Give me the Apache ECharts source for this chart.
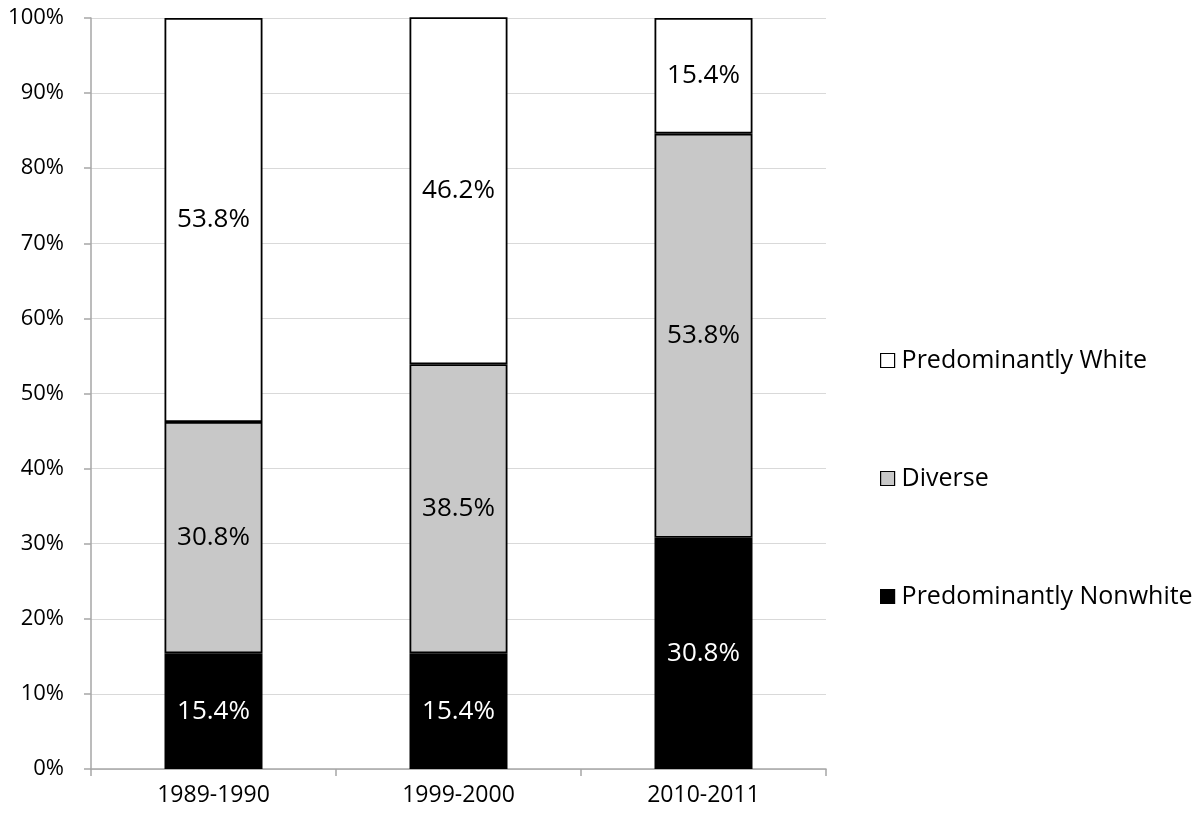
<!DOCTYPE html>
<html>
<head>
<meta charset="utf-8">
<title>Chart</title>
<script src="https://cdn.jsdelivr.net/npm/echarts@6/dist/echarts.min.js"></script>
<style>
  html, body { margin: 0; padding: 0; background: #fff; }
  #chart { width: 1204px; height: 814px; }
</style>
</head>
<body>
<div id="chart"></div>
<script>
// data
var categories = ["1989-1990", "1999-2000", "2010-2011"];
var nonwhite = [15.4, 15.4, 30.8];
var diverse = [30.8, 38.5, 53.8];
var white = [53.8, 46.2, 15.4];
var yTicks = [0, 10, 20, 30, 40, 50, 60, 70, 80, 90, 100];

var font = "'Open Sans', 'Liberation Sans', sans-serif";

function barSeries(name, data, fill, labelColor) {
  return {
    name: name,
    type: "bar",
    stack: "total",
    barWidth: "40%",
    data: data,
    itemStyle: { color: fill, borderColor: "#000", borderWidth: 1.8 },
    label: {
      show: true,
      position: "inside",
      color: labelColor,
      fontFamily: font,
      fontSize: 26,
      formatter: function (p) { return p.value.toFixed(1) + "%"; }
    }
  };
}

var myChart = echarts.init(document.getElementById("chart"));
myChart.setOption({
  animation: false,
  grid: { left: 91, right: 378, top: 18, bottom: 45 },
  legend: {
    orient: "vertical",
    left: 875,
    top: 343,
    itemGap: 93,
    itemWidth: 14,
    itemHeight: 14,
    icon: "rect",
    data: ["Predominantly White", "Diverse", "Predominantly Nonwhite"],
    textStyle: { fontFamily: font, fontSize: 25, color: "#000", padding: [0, 0, 0, 2] },
    itemStyle: { borderColor: "#000", borderWidth: 1.2 }
  },
  xAxis: {
    type: "category",
    data: categories,
    axisLine: { lineStyle: { color: "#a6a6a6", width: 1.5 } },
    axisTick: { show: true, length: 7, lineStyle: { color: "#a6a6a6", width: 1.5 } },
    axisLabel: { color: "#000", fontFamily: font, fontSize: 23, margin: 15 }
  },
  yAxis: {
    type: "value",
    min: yTicks[0],
    max: yTicks[yTicks.length - 1],
    interval: 10,
    axisLine: { show: true, lineStyle: { color: "#a6a6a6", width: 1.5 } },
    axisTick: { show: true, length: 7, lineStyle: { color: "#a6a6a6", width: 1.5 } },
    axisLabel: { color: "#000", fontFamily: font, fontSize: 22, margin: 27, formatter: "{value}%" },
    splitLine: { lineStyle: { color: "#d9d9d9", width: 1 } }
  },
  series: [
    barSeries("Predominantly Nonwhite", nonwhite, "#000000", "#ffffff"),
    barSeries("Diverse", diverse, "#c8c8c8", "#000000"),
    barSeries("Predominantly White", white, "#ffffff", "#000000")
  ]
});
</script>
</body>
</html>
